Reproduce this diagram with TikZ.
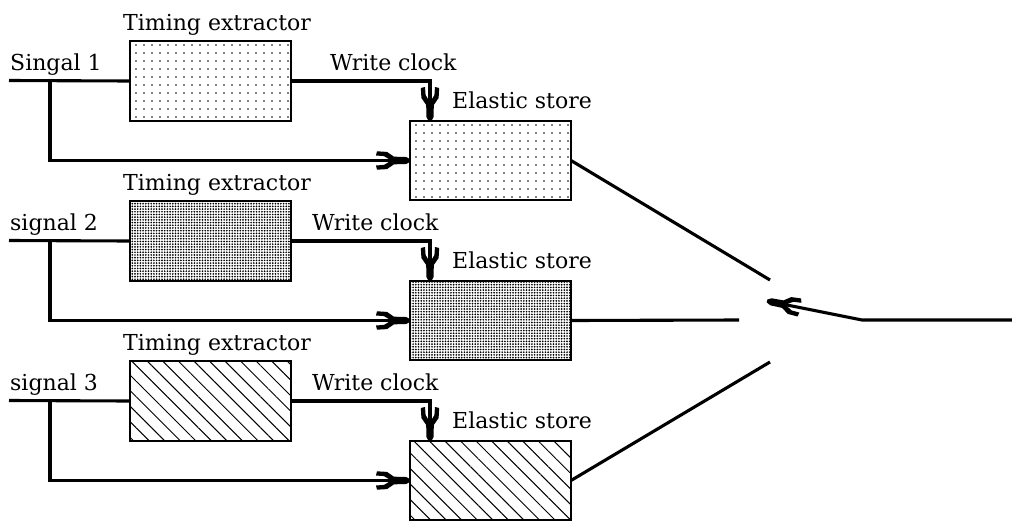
\documentclass[tikz,border=0pt]{standalone}
\usepackage{fontspec}
\setmainfont{DejaVu Serif}
\usetikzlibrary{arrows.meta,patterns.meta}

% forked arrow head: filled stem at the point, two thick barbs behind it
\pgfdeclarearrow{
  name = Fork,
  setup code = {
    \pgfarrowssettipend{0pt}
    \pgfarrowssetbackend{-34pt}
    \pgfarrowssetlineend{-20pt}
    \pgfarrowsupperhullpoint{0pt}{1pt}
    \pgfarrowsupperhullpoint{-34pt}{9pt}
  },
  drawing code = {
    \pgfpathmoveto{\pgfqpoint{0pt}{1.4pt}}
    \pgfpathlineto{\pgfqpoint{-4pt}{3.6pt}}
    \pgfpathlineto{\pgfqpoint{-16pt}{3.8pt}}
    \pgfpathlineto{\pgfqpoint{-23pt}{8.6pt}}
    \pgfpathlineto{\pgfqpoint{-33pt}{9.2pt}}
    \pgfpathlineto{\pgfqpoint{-34pt}{5pt}}
    \pgfpathlineto{\pgfqpoint{-26pt}{4.4pt}}
    \pgfpathlineto{\pgfqpoint{-21pt}{1.4pt}}
    \pgfpathlineto{\pgfqpoint{-21pt}{-1.4pt}}
    \pgfpathlineto{\pgfqpoint{-26pt}{-4.4pt}}
    \pgfpathlineto{\pgfqpoint{-34pt}{-5pt}}
    \pgfpathlineto{\pgfqpoint{-33pt}{-9.2pt}}
    \pgfpathlineto{\pgfqpoint{-23pt}{-8.6pt}}
    \pgfpathlineto{\pgfqpoint{-16pt}{-3.8pt}}
    \pgfpathlineto{\pgfqpoint{-4pt}{-3.6pt}}
    \pgfpathlineto{\pgfqpoint{0pt}{-1.4pt}}
    \pgfpathclose
    \pgfusepathqfill
  }
}

\begin{document}
\begin{tikzpicture}[x=1pt,y=-1pt,
  wire/.style={line width=3.1pt},
  feed/.style={wire,-{Fork}},
  unit/.style={draw,line width=1.5pt,minimum width=161pt,minimum height=80pt,inner sep=0pt,outer sep=0pt},
  fillA/.style={pattern={Dots[distance=8pt,radius=0.8pt]}},
  fillB/.style={pattern={Dots[distance=2.7pt,radius=0.95pt]}},
  fillC/.style={pattern={Lines[angle=-45,distance=11pt,line width=1pt]}},
  lbl/.style={font=\fontsize{22}{22}\selectfont,inner sep=0pt,anchor=base west}]
\useasboundingbox (0,0) rectangle (1012,525);

% three input channels, each with a timing extractor and an elastic store
\foreach \r/\pat/\sname/\wx in {1/fillA/Singal 1/330,2/fillB/signal 2/312,3/fillC/signal 3/312}{
  \pgfmathsetmacro{\yo}{(\r-1)*160}
  \node[unit,\pat] (te\r) at (210.5,81+\yo) {};
  \node[unit,\pat,minimum height=79pt] (es\r) at (490.5,160.5+\yo) {};
  \node[lbl] (tl\r) at (123,30+\yo) {Timing extractor};
  \node[lbl] (sl\r) at (10,70.5+\yo) {\sname};
  \node[lbl] (wl\r) at (\wx,70+\yo) {Write clock};
  \node[lbl] (el\r) at (452,108.5+\yo) {Elastic store};
  \coordinate (in\r) at (9,80.5+\yo);
  \coordinate (br\r) at (50,80.5+\yo);
  \coordinate (tap\r) at ([xshift=20pt]es\r.north west);
  \draw[wire] (in\r) -- (te\r.west);
  \draw[feed] (te\r.east) -| (tap\r);
  \draw[feed] (br\r) |- (es\r.west);
}

% selector contacts and the switch arm
\coordinate (c1) at (770,280);
\coordinate (c2) at (739,320);
\coordinate (c3) at (770,362);
\coordinate (out) at (1012,320);
\coordinate (knee) at (862,320);
\coordinate (arm) at (767,301);
\draw[wire] (es1.east) -- (c1);
\draw[wire] (es2.east) -- (c2);
\draw[wire] (es3.east) -- (c3);
\draw[feed] (out) -- (knee) -- (arm);
\end{tikzpicture}
\end{document}
